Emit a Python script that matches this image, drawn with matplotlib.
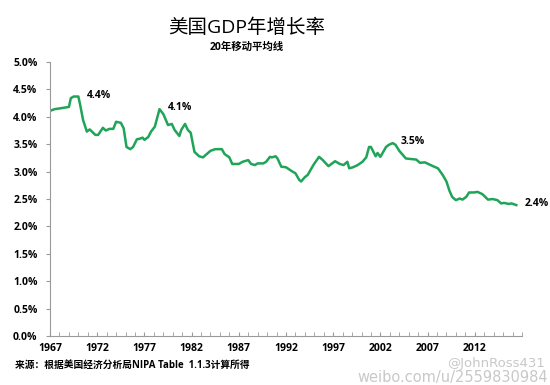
import matplotlib.pyplot as plt
from matplotlib.ticker import FuncFormatter, MultipleLocator

# 20-year moving average of US GDP growth (% per year)
years = [1967.0, 1967.5, 1967.9, 1969.0, 1969.2, 1969.5, 1970.0, 1970.2, 1970.5, 1970.9,
         1971.2, 1971.8, 1972.1, 1972.6, 1972.9, 1973.3, 1973.7, 1974.0, 1974.5, 1974.8,
         1975.1, 1975.5, 1975.8, 1976.2, 1976.5, 1976.8, 1977.0, 1977.4, 1977.7, 1978.1,
         1978.6, 1979.0, 1979.5, 1979.9, 1980.2, 1980.7, 1980.9, 1981.3, 1981.6, 1981.9,
         1982.3, 1982.8, 1983.2, 1983.6, 1984.0, 1984.5, 1984.8, 1985.2, 1985.5, 1986.0,
         1986.3, 1987.0, 1987.4, 1988.0, 1988.3, 1988.7, 1989.0, 1989.6, 1989.9, 1990.3,
         1990.5, 1990.9, 1991.1, 1991.5, 1992.0, 1992.6, 1993.0, 1993.4, 1993.6, 1994.0,
         1994.3, 1994.9, 1995.5, 1995.9, 1996.5, 1997.2, 1997.7, 1998.1, 1998.5, 1998.7,
         1999.1, 1999.6, 2000.1, 2000.5, 2000.8, 2001.0, 2001.5, 2001.7, 2002.0, 2002.6,
         2002.9, 2003.3, 2003.6, 2004.0, 2004.7, 2005.8, 2006.2, 2006.7, 2007.2, 2007.7,
         2008.1, 2008.6, 2009.0, 2009.3, 2009.6, 2010.0, 2010.4, 2010.7, 2011.1, 2011.4,
         2011.9, 2012.3, 2012.8, 2013.4, 2013.9, 2014.4, 2014.8, 2015.1, 2015.6, 2015.9,
         2016.4]
values = [4.11, 4.14, 4.15, 4.18, 4.34, 4.37, 4.37, 4.21, 3.94, 3.73,
          3.77, 3.67, 3.67, 3.80, 3.75, 3.78, 3.78, 3.91, 3.89, 3.79,
          3.45, 3.41, 3.45, 3.59, 3.60, 3.62, 3.58, 3.63, 3.73, 3.82,
          4.14, 4.05, 3.85, 3.87, 3.76, 3.65, 3.76, 3.87, 3.76, 3.71,
          3.36, 3.28, 3.26, 3.32, 3.38, 3.41, 3.41, 3.41, 3.32, 3.26,
          3.14, 3.14, 3.18, 3.21, 3.14, 3.12, 3.15, 3.15, 3.18, 3.27,
          3.26, 3.28, 3.24, 3.09, 3.08, 3.01, 2.97, 2.85, 2.82, 2.90,
          2.94, 3.12, 3.27, 3.21, 3.10, 3.19, 3.14, 3.12, 3.18, 3.06,
          3.08, 3.12, 3.18, 3.26, 3.45, 3.45, 3.28, 3.34, 3.27, 3.45,
          3.49, 3.52, 3.49, 3.38, 3.24, 3.22, 3.16, 3.17, 3.13, 3.09,
          3.06, 2.94, 2.82, 2.66, 2.54, 2.48, 2.51, 2.49, 2.54, 2.62,
          2.62, 2.63, 2.59, 2.49, 2.50, 2.48, 2.42, 2.43, 2.41, 2.42,
          2.39]

# labelled points: (year, value, text)
labels = [(1970.0, 4.37, "4.4%"), (1978.6, 4.14, "4.1%"),
          (2003.3, 3.52, "3.5%"), (2016.4, 2.39, "2.4%")]

fonts = ["Open Sans", "Noto Sans CJK SC", "DejaVu Sans"]
plt.rcParams["font.family"] = fonts

fig = plt.figure(figsize=(5.5, 3.85), dpi=100)
ax = fig.add_axes([0.091, 0.127, 0.858, 0.712])

ax.plot(years, values, color="#1fa458", linewidth=1.8)

for x, y, t in labels:
    ax.annotate(t, (x, y), xytext=(6, 1), textcoords="offset points",
                fontsize=7.5, fontweight="bold", va="center", ha="left")

ax.set_xlim(1967, 2017)
ax.set_ylim(0, 5)
ax.yaxis.set_major_locator(MultipleLocator(0.5))
ax.yaxis.set_major_formatter(FuncFormatter(lambda v, p: f"{v:.1f}%"))
ax.set_xticks(range(1967, 2017, 5))
ax.xaxis.set_minor_locator(MultipleLocator(1))

for s in ["top", "right"]:
    ax.spines[s].set_visible(False)
for s in ["left", "bottom"]:
    ax.spines[s].set_color("#9a9a9a")
    ax.spines[s].set_linewidth(0.8)

ax.tick_params(axis="y", direction="out", length=3, color="#9a9a9a",
               labelsize=7.5, pad=6)
ax.tick_params(axis="x", which="both", direction="in", length=3, color="#9a9a9a",
               labelsize=7.5, pad=5)
for lab in ax.get_xticklabels() + ax.get_yticklabels():
    lab.set_fontweight("bold")

fig.text(0.448, 0.927, "美国GDP年增长率", ha="center", va="center", fontsize=14)
fig.text(0.448, 0.877, "20年移动平均线", ha="center", va="center", fontsize=7.5,
         fontweight="bold")
fig.text(0.027, 0.052, "来源：根据美国经济分析局NIPA Table  1.1.3计算所得",
         ha="left", va="center", fontsize=7, fontweight="bold")

# watermark
fig.text(0.99, 0.057, "@JohnRoss431", ha="right", va="center", fontsize=9.5,
         color="#c8c8c8", family=["DejaVu Sans"])
fig.text(0.997, 0.02, "weibo.com/u/2559830984", ha="right", va="center",
         fontsize=10.5, color="#c8c8c8", family=["DejaVu Sans"])

fig.savefig("out.png", dpi=100)
